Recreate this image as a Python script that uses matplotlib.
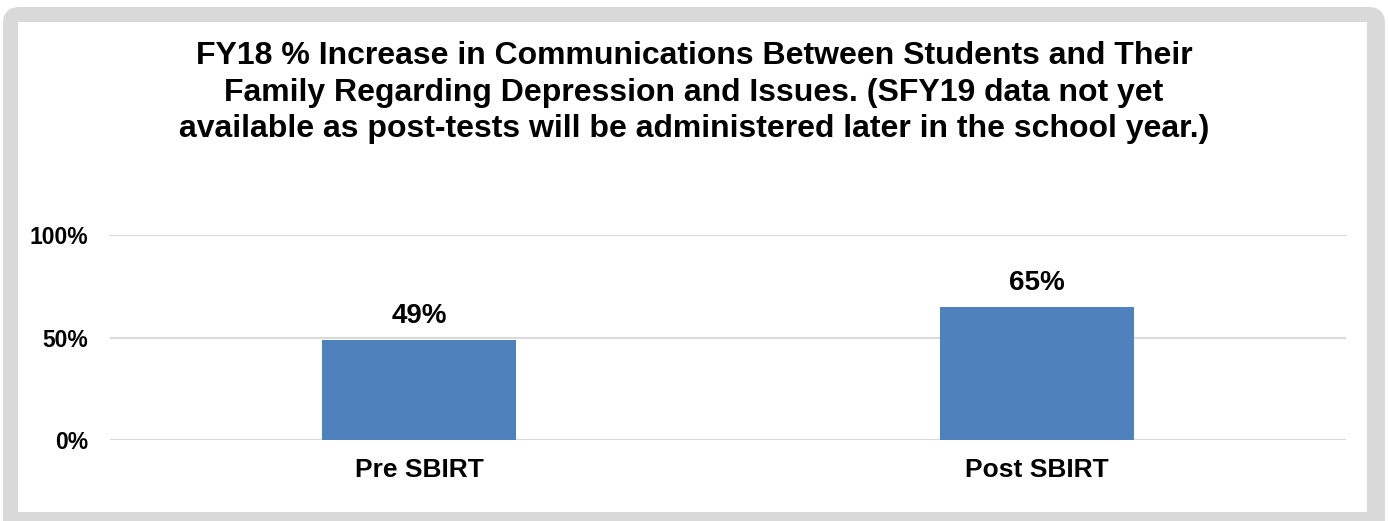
import matplotlib
matplotlib.use("Agg")
import matplotlib.pyplot as plt
from matplotlib.patches import FancyBboxPatch, Rectangle

# data
categories = ["Pre SBIRT", "Post SBIRT"]
values = [0.49, 0.65]
value_labels = ["49%", "65%"]
yticks = [0, 0.5, 1.0]
ytick_labels = ["0%", "50%", "100%"]
title_lines = [
    "FY18 % Increase in Communications Between Students and Their",
    "Family Regarding Depression and Issues. (SFY19 data not yet",
    "available as post-tests will be administered later in the school year.)",
]

plt.rcParams["font.family"] = ["Liberation Sans", "DejaVu Sans"]

W, H = 1388, 521
fig = plt.figure(figsize=(W / 100, H / 100), dpi=100)

# grey frame with rounded outer corners
outer = FancyBboxPatch((3 / W, -30 / H), 1382 / W, (514 + 30) / H,
                       boxstyle="round,pad=0,rounding_size=0.012",
                       transform=fig.transFigure, facecolor="#d9d9d9",
                       edgecolor="none", mutation_aspect=W / H, zorder=-2)
fig.patches.append(outer)
inner = Rectangle((18 / W, (H - 512) / H), (1367 - 18) / W, (512 - 22) / H,
                  transform=fig.transFigure, facecolor="white",
                  edgecolor="none", zorder=-1)
fig.patches.append(inner)

ax = fig.add_axes([110 / W, 1 - 440 / H, (1346 - 110) / W, (440 - 235) / H])
ax.set_facecolor("none")
ax.bar(range(len(categories)), values, width=0.314, color="#4f81bd", zorder=3)
ax.set_xlim(-0.5, 1.5)
ax.set_ylim(0, 1.0)
ax.set_yticks(yticks)
ax.set_yticklabels(ytick_labels, fontsize=16.5, fontweight="bold")
ax.set_xticks(range(len(categories)))
ax.set_xticklabels(categories, fontsize=19, fontweight="bold")
ax.tick_params(length=0)
ax.tick_params(axis="y", pad=16)
ax.tick_params(axis="x", pad=13)
ax.grid(axis="y", color="#d9d9d9", linewidth=1.5, zorder=0)
for s in ax.spines.values():
    s.set_visible(False)

for i, v in enumerate(values):
    ax.annotate(value_labels[i], (i, v), xytext=(0, 12.2),
                textcoords="offset points", ha="center", va="baseline",
                fontsize=20, fontweight="bold")

# title, one line per text so baselines match
for line, base in zip(title_lines, [64, 100.5, 137]):
    fig.text(0.5, 1 - base / H, line, ha="center", va="baseline",
             fontsize=23, fontweight="bold")

fig.savefig("out.png", dpi=100)
